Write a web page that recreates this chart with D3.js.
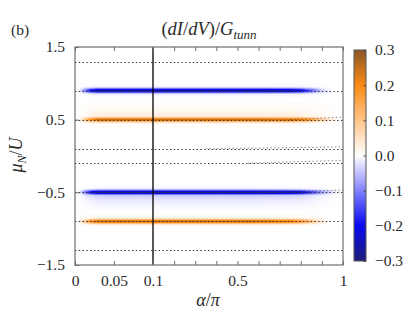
<!DOCTYPE html>
<html><head><meta charset="utf-8">
<script src="https://cdn.jsdelivr.net/npm/d3@7"></script>
<style>
html,body{margin:0;padding:0;background:#fff;}
svg{display:block;font-family:"Liberation Serif","DejaVu Serif",serif;}
</style></head>
<body>
<svg id="chart" width="415" height="312"></svg>
<script>
// ---------- data ----------
const xTickValues = [0, 0.05, 0.1, 0.2, 0.3, 0.4, 0.5, 0.6, 0.7, 0.8, 0.9, 1];
const xTickLabels = {0: "0", 0.05: "0.05", 0.1: "0.1", 0.5: "0.5", 1: "1"};
const yTickValues = [-1.5, -0.5, 0.5, 1.5];
const yTickLabels = ["−1.5", "−0.5", "0.5", "1.5"];
const cbTickValues = [-0.3, -0.2, -0.1, 0, 0.1, 0.2, 0.3];

const colorStopValues = [-0.3, -0.2, -0.1, 0, 0.1, 0.2, 0.3];
const colorStopColors = ["#1f1f78", "#0808f2", "#8282ff", "#ffffff", "#ffc488", "#fb8a12", "#8a5628"];

// horizontal resonance bands
const bandMu = [0.9, 0.5, -0.5, -0.9];
const bandPeak = [-0.27, 0.25, -0.27, 0.25];
const bandTailAmp = [0.2, 0.22, 0.27, 0.2];
const bandTailUp = [0.03, 0.09, 0.025, 0.045];
const bandTailDown = [0.035, 0.02, 0.08, 0.02];
const alphaNodes = [0, 0.006, 0.012, 0.02, 0.03, 0.1, 0.6, 0.75, 0.8, 0.85, 0.9, 0.95, 1];
const bandEnvelope = [
  [0, 0.05, 0.35, 0.75, 1, 1, 1, 0.95, 0.8, 0.5, 0.15, 0, 0],
  [0, 0.05, 0.35, 0.75, 1, 1, 1, 0.95, 0.85, 0.65, 0.35, 0.1, 0],
  [0, 0.05, 0.35, 0.75, 1, 1, 1, 0.95, 0.85, 0.6, 0.3, 0.08, 0],
  [0, 0.05, 0.35, 0.75, 1, 1, 1, 0.9, 0.75, 0.45, 0.12, 0, 0]
];

// dotted reference levels
const dotLevels = [1.3, 0.9, 0.5, 0.1, -0.1, -0.5, -0.9, -1.3];
// secondary dotted branches that split off near the right
const splitBase = [0.5, 0.1, -0.1, -0.5];
const splitStartAlpha = [0.75, 0.35, 0.55, 0.6];
const splitEnd = [0.535, 0.125, -0.06, -0.47];

// ---------- layout ----------
const svg = d3.select("#chart");
const x = d3.scaleLinear().domain([0, 0.1, 1]).range([75, 153, 343]);
const y = d3.scaleLinear().domain([-1.5, 1.5]).range([265, 47]);
const color = d3.scaleLinear().domain(colorStopValues).range(colorStopColors).clamp(true);
const envScales = bandEnvelope.map(e => d3.scaleLinear().domain(alphaNodes).range(e).clamp(true));

// ---------- heatmap ----------
const x0 = x.range()[0], x1 = x.range()[2];
const y0 = y.range()[1], y1 = y.range()[0];
const W = Math.round(x1 - x0), H = Math.round(y1 - y0);
const cv = document.createElement("canvas");
cv.width = W; cv.height = H;
const ctx = cv.getContext("2d");
const img = ctx.createImageData(W, H);
const sigma = 0.022;
for (let px = 0; px < W; px++) {
  const a = x.invert(x0 + px + 0.5);
  const amps = envScales.map(s => s(a));
  for (let py = 0; py < H; py++) {
    const m = y.invert(y0 + py + 0.5);
    let v = 0;
    for (let b = 0; b < bandMu.length; b++) {
      const d = m - bandMu[b];
      const core = Math.exp(-d * d / (2 * sigma * sigma));
      const L = d > 0 ? bandTailUp[b] : bandTailDown[b];
      const tail = bandTailAmp[b] * Math.exp(-Math.abs(d) / L);
      v += amps[b] * bandPeak[b] * Math.max(core, tail);
    }
    const c = d3.rgb(color(v));
    const k = (py * W + px) * 4;
    img.data[k] = c.r; img.data[k + 1] = c.g; img.data[k + 2] = c.b; img.data[k + 3] = 255;
  }
}
ctx.putImageData(img, 0, 0);
svg.append("image").attr("x", x0).attr("y", y0).attr("width", W).attr("height", H)
  .attr("preserveAspectRatio", "none").attr("href", cv.toDataURL());

// dotted lines
const dots = svg.append("g").attr("stroke", "#333").attr("stroke-width", 1)
  .attr("stroke-dasharray", "1.4,2.4").attr("fill", "none");
dots.selectAll("line.lev").data(dotLevels).join("line").attr("class", "lev")
  .attr("x1", x0).attr("x2", x1)
  .attr("y1", d => Math.round(y(d)) + 0.5).attr("y2", d => Math.round(y(d)) + 0.5);
const line = d3.line().x(d => x(d[0])).y(d => y(d[1]));
dots.selectAll("path.split").data(splitBase.map((b, i) => [[splitStartAlpha[i], b], [1, splitEnd[i]]]))
  .join("path").attr("class", "split").attr("d", line).attr("stroke-opacity", 0.6);

// vertical line at alpha = 0.1
svg.append("line").attr("x1", x(0.1)).attr("x2", x(0.1)).attr("y1", y0).attr("y2", y1)
  .attr("stroke", "#000").attr("stroke-width", 1.3);

// frame & axes
const axisColor = "#6e6e6e";
svg.append("rect").attr("x", x0).attr("y", y0).attr("width", x1 - x0).attr("height", y1 - y0)
  .attr("fill", "none").attr("stroke", axisColor).attr("stroke-width", 1.2);

const gx = svg.append("g").attr("transform", `translate(0,${y1})`)
  .call(d3.axisBottom(x).tickValues(xTickValues).tickSizeInner(-4).tickSizeOuter(0)
    .tickPadding(10).tickFormat(d => xTickLabels[d] !== undefined ? xTickLabels[d] : ""));
const gxt = svg.append("g").attr("transform", `translate(0,${y0})`)
  .call(d3.axisTop(x).tickValues(xTickValues).tickSizeInner(-4).tickSizeOuter(0).tickFormat(""));
const gy = svg.append("g").attr("transform", `translate(${x0},0)`)
  .call(d3.axisLeft(y).tickValues(yTickValues).tickSizeInner(-4).tickSizeOuter(0)
    .tickPadding(10).tickFormat((d, i) => yTickLabels[i]));
[gx, gxt, gy].forEach(g => {
  g.attr("font-family", null).attr("font-size", null);
  g.select(".domain").remove();
  g.selectAll(".tick line").attr("stroke", axisColor);
  g.selectAll(".tick text").attr("fill", "#2a2a2a").style("font-size", "15.5px")
    .style("font-family", '"Liberation Serif", serif');
});

// colorbar
const cbX = 354, cbW = 12;
const cb = d3.scaleLinear().domain([-0.3, 0.3]).range([261, 50]);
const grad = svg.append("defs").append("linearGradient").attr("id", "cbgrad")
  .attr("x1", 0).attr("y1", 1).attr("x2", 0).attr("y2", 0);
grad.selectAll("stop").data(colorStopValues).join("stop")
  .attr("offset", d => (d + 0.3) / 0.6).attr("stop-color", (d, i) => colorStopColors[i]);
svg.append("rect").attr("x", cbX).attr("y", cb(0.3)).attr("width", cbW).attr("height", cb(-0.3) - cb(0.3))
  .attr("fill", "url(#cbgrad)").attr("stroke", "#555").attr("stroke-width", 1);
const gcb = svg.append("g").attr("transform", `translate(${cbX + cbW},0)`)
  .call(d3.axisRight(cb).tickValues(cbTickValues).tickSizeInner(-2.5).tickSizeOuter(0)
    .tickPadding(9).tickFormat(d3.format(".1f")));
gcb.attr("font-family", null).attr("font-size", null);
gcb.select(".domain").remove();
gcb.selectAll(".tick line").attr("stroke", "#444");
gcb.selectAll(".tick text").attr("fill", "#2a2a2a").style("font-size", "15.5px")
  .style("font-family", '"Liberation Serif", serif');

// texts
const T = svg.append("g").attr("fill", "#2a2a2a").style("font-size", "15.5px");
T.append("text").attr("x", 11).attr("y", 35).text("(b)");
const title = T.append("text").attr("x", 209).attr("y", 35).attr("text-anchor", "middle")
  .style("font-size", "18.5px");
title.append("tspan").text("(");
title.append("tspan").attr("font-style", "italic").text("dI");
title.append("tspan").text("/");
title.append("tspan").attr("font-style", "italic").text("dV");
title.append("tspan").text(")/");
title.append("tspan").attr("font-style", "italic").text("G");
title.append("tspan").attr("font-style", "italic").attr("dy", 4).style("font-size", "13px").text("tunn");

const xl = T.append("text").attr("x", 208).attr("y", 306).attr("text-anchor", "middle")
  .style("font-size", "18px");
xl.append("tspan").attr("font-style", "italic").text("α");
xl.append("tspan").text("/");
xl.append("tspan").attr("font-style", "italic").text("π");

const yl = T.append("text").attr("transform", "translate(22,155) rotate(-90)").attr("text-anchor", "middle")
  .style("font-size", "18px");
yl.append("tspan").attr("font-style", "italic").text("μ");
yl.append("tspan").attr("font-style", "italic").attr("dy", 4).style("font-size", "12px").text("N");
yl.append("tspan").attr("dy", -4).text("/");
yl.append("tspan").attr("font-style", "italic").text("U");
</script>
</body></html>
